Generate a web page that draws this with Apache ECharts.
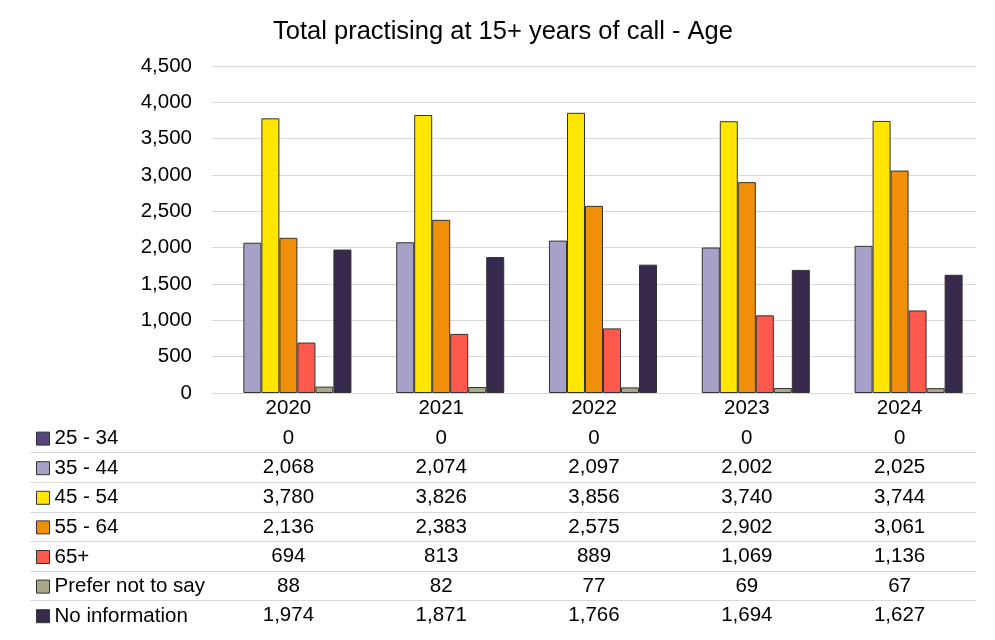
<!DOCTYPE html>
<html>
<head>
<meta charset="utf-8">
<script src="https://cdn.jsdelivr.net/npm/echarts@6/dist/echarts.min.js"></script>
<style>html,body{margin:0;padding:0;background:#fff;}#c{width:995px;height:640px;}</style>
</head>
<body>
<div id="c"></div>
<script>
const categories = ['2020', '2021', '2022', '2023', '2024'];
const seriesNames = ['25 - 34', '35 - 44', '45 - 54', '55 - 64', '65+', 'Prefer not to say', 'No information'];
const age25to34 = [0, 0, 0, 0, 0];
const age35to44 = [2068, 2074, 2097, 2002, 2025];
const age45to54 = [3780, 3826, 3856, 3740, 3744];
const age55to64 = [2136, 2383, 2575, 2902, 3061];
const age65plus = [694, 813, 889, 1069, 1136];
const preferNotToSay = [88, 82, 77, 69, 67];
const noInformation = [1974, 1871, 1766, 1694, 1627];
const yTicks = { min: 0, max: 4500, interval: 500 };
const colors = ['#56457f', '#a6a1c6', '#ffe500', '#f0900a', '#ff584c', '#aca788', '#372a4d'];

const seriesValues = [age25to34, age35to44, age45to54, age55to64, age65plus, preferNotToSay, noInformation];
const fmt = v => Number(v).toLocaleString('en-US');
const FONT = 'Liberation Sans, Arial, sans-serif';
const FS = 20.5;
const ROW = 29.6;
const GRID_BOTTOM_Y = 393;

const xAxes = [{
  type: 'category', data: categories, gridIndex: 0, position: 'bottom',
  axisLine: { show: true, lineStyle: { color: '#d9d9d9', width: 1 } },
  axisTick: { show: false },
  axisLabel: { color: '#000', fontSize: FS, fontFamily: FONT, margin: 5, interval: 0 }
}];
seriesValues.forEach((vals, i) => {
  xAxes.push({
    type: 'category', data: vals.map(fmt), gridIndex: 0, position: 'bottom',
    offset: ROW * (i + 1),
    axisLine: { show: false }, axisTick: { show: false }, splitLine: { show: false },
    axisLabel: { color: '#000', fontSize: FS, fontFamily: FONT, margin: 5, interval: 0 }
  });
});

const graphics = [];
for (let i = 0; i < seriesValues.length - 1; i++) {
  const y = Math.round(GRID_BOTTOM_Y + 15 + ROW * (i + 1.5)) + 0.5;
  graphics.push({ type: 'line', shape: { x1: 30, y1: y, x2: 976, y2: y }, style: { stroke: '#d9d9d9', lineWidth: 1 }, silent: true });
}

const chart = echarts.init(document.getElementById('c'), null, { renderer: 'canvas' });
chart.setOption({
  animation: false,
  backgroundColor: '#fff',
  color: colors,
  textStyle: { fontFamily: FONT },
  title: {
    text: 'Total practising at 15+ years of call - Age',
    left: 498, top: 14, textAlign: 'center',
    textStyle: { fontSize: 25.5, fontWeight: 'normal', color: '#000', fontFamily: FONT }
  },
  grid: { left: 212, right: 19, top: 66, bottom: 640 - GRID_BOTTOM_Y },
  legend: {
    orient: 'vertical', left: 31, top: GRID_BOTTOM_Y + 15 + ROW / 2 - 4,
    itemGap: 0, itemWidth: 13, itemHeight: 13, selectedMode: false,
    icon: 'rect',
    itemStyle: { borderColor: '#333', borderWidth: 1 },
    textStyle: { fontSize: FS, color: '#000', fontFamily: FONT, lineHeight: ROW },
    data: seriesNames
  },
  xAxis: xAxes,
  yAxis: {
    type: 'value', min: yTicks.min, max: yTicks.max, interval: yTicks.interval,
    axisLine: { show: false }, axisTick: { show: false },
    splitLine: { lineStyle: { color: '#d9d9d9', width: 1 } },
    axisLabel: { color: '#000', fontSize: FS, fontFamily: FONT, margin: 20, formatter: v => fmt(v) }
  },
  series: seriesValues.map((vals, i) => ({
    name: seriesNames[i], type: 'bar', xAxisIndex: 0,
    data: vals.map(v => v === 0 ? { value: v, itemStyle: { borderWidth: 0 } } : v),
    barGap: '0%', barCategoryGap: '17.5%',
    itemStyle: { color: colors[i], borderColor: '#333', borderWidth: 1 }
  })),
  graphic: graphics
});
</script>
</body>
</html>
